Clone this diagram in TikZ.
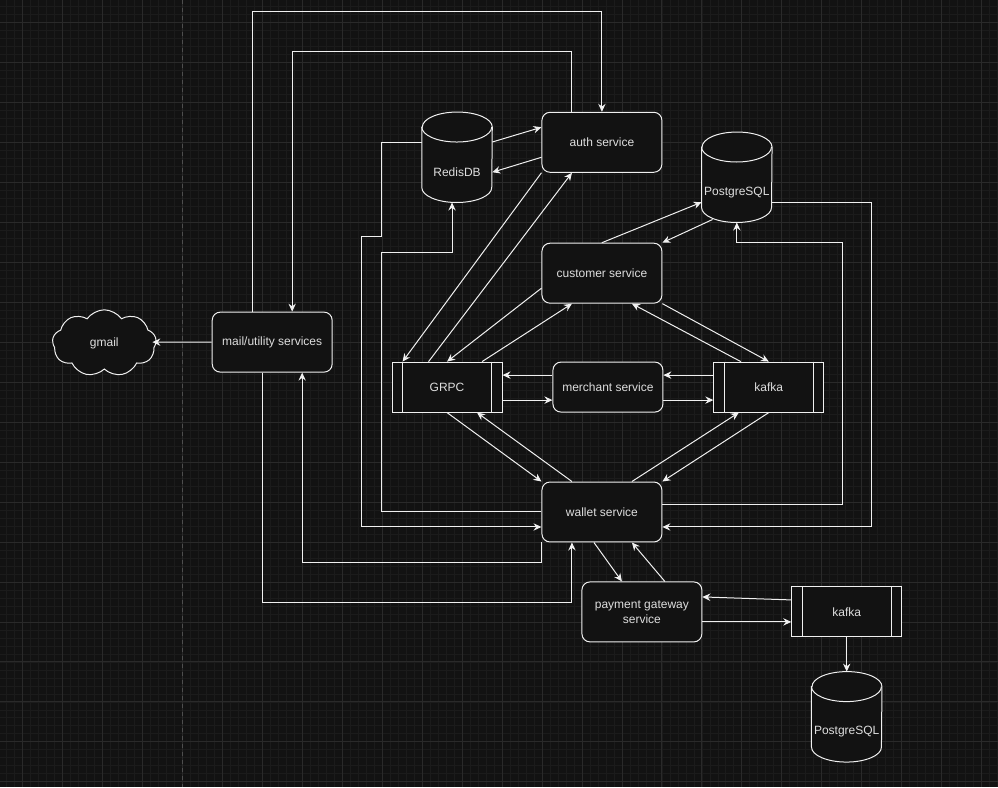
\documentclass[tikz,border=0pt]{standalone}
\usepackage{fontspec}
\setmainfont{Liberation Sans}
\usetikzlibrary{shapes,arrows,arrows.meta,positioning,calc,backgrounds}

\definecolor{canvas}{RGB}{18,18,18}
\definecolor{gridminor}{RGB}{27,27,27}
\definecolor{gridmajor}{RGB}{42,42,42}
\definecolor{pagebreak}{RGB}{78,78,78}
\definecolor{strokecol}{RGB}{240,240,240}
\definecolor{labelcol}{RGB}{222,222,222}

\begin{document}
\begin{tikzpicture}[x=0.75pt, y=-0.75pt,
    svc/.style={rectangle, draw=strokecol, line width=0.75pt, rounded corners=6pt, fill=canvas, text=labelcol, align=center, minimum width=90pt, minimum height=45pt, inner sep=2pt, font=\fontsize{9}{11}\selectfont},
    queue/.style={svc, sharp corners, minimum width=82.5pt, minimum height=37.5pt},
    db/.style={rectangle, text=labelcol, minimum width=52.5pt, minimum height=45pt, inner sep=0pt, font=\fontsize{9}{11}\selectfont},
    cloudy/.style={cloud, cloud puffs=9, cloud puff arc=110, aspect=1.55, draw=strokecol, line width=0.75pt, fill=canvas, text=labelcol, minimum width=78pt, minimum height=50pt, inner sep=0pt, font=\fontsize{9}{11}\selectfont},
    wire/.style={draw=strokecol, line width=0.75pt},
    link/.style={wire, -{Stealth[length=6pt, width=5.5pt, inset=2pt]}}
]

    % Canvas and grid
    \begin{pgfonlayer}{background}
    \fill[canvas] (0,0) rectangle (998,787);
    \foreach \g in {6,14,...,998} \draw[gridminor, line width=0.5pt] (\g,0) -- (\g,787);
    \foreach \g in {6,14,...,787} \draw[gridminor, line width=0.5pt] (0,\g) -- (998,\g);
    \foreach \g in {22,62,...,982} \draw[gridmajor, line width=0.6pt] (\g,0) -- (\g,787);
    \foreach \g in {22,62,...,782} \draw[gridmajor, line width=0.6pt] (0,\g) -- (998,\g);
    \draw[pagebreak, dashed, line width=0.6pt] (182,0) -- (182,787);
    \end{pgfonlayer}
    \useasboundingbox (0,0) rectangle (998,787);

    % Core services
    \node (auth) [svc] at (602,142) {auth service};
    \node (customer) [svc, below=52.5pt of auth] {customer service};
    \node (wallet) [svc] at (602,512) {wallet service};

    % Middle row
    \node (grpc) [queue] at (447,387) {GRPC};
    \node (merchant) [svc, minimum width=82.5pt, minimum height=37.5pt, right=37.5pt of grpc] {merchant service};
    \node (kafka) [queue, right=37.5pt of merchant] {kafka};

    % Mail side
    \node (mail) [svc] at (272,342) {mail/utility services};
    \node (gmail) [cloudy] at (104,343) {gmail};

    % Payments
    \node (pay) [svc] at (642,612) {payment gateway\\service};
    \node (kafkapay) [queue] at (847,612) {kafka};

    % Stores
    \node (redis) [db] at (457,172) {RedisDB};
    \node (pg) [db] at (737,192) {PostgreSQL};
    \node (pgpay) [db] at (847,732) {PostgreSQL};

    \begin{pgfonlayer}{background}
    \foreach \d in {redis,pg,pgpay} {
        \draw[wire, fill=canvas] ($(\d.north west)+(0,-15)$) -- ($(\d.south west)+(0,-15)$)
            arc[start angle=180, end angle=0, x radius=35, y radius=15]
            -- ($(\d.north east)+(0,-15)$)
            arc[start angle=0, end angle=-180, x radius=35, y radius=15] -- cycle;
        \draw[wire] ($(\d.north west)+(0,-15)$) arc[start angle=180, end angle=0, x radius=35, y radius=15];
    }
    \end{pgfonlayer}
    \foreach \q in {grpc,kafka,kafkapay} {
        \draw[wire] ($(\q.north west)+(11,0)$) -- ($(\q.south west)+(11,0)$);
        \draw[wire] ($(\q.north east)+(-11,0)$) -- ($(\q.south east)+(-11,0)$);
    }

    % Mail loops
    \draw[link] ($(mail.north)+(-20,0)$) -- ++(0,-300) -| (auth.north);
    \draw[link] ($(auth.north)+(-30,0)$) -- ++(0,-60) -| ($(mail.north)+(20,0)$);
    \draw[link] (mail.west) -- ($(gmail.east)+(-4,-1)$);
    \draw[link] (wallet.south west) -- ++(0,20) -| ($(mail.south)+(30,0)$);
    \draw[link] ($(mail.south)+(-10,0)$) -- ++(0,230) -| ($(wallet.south)+(-30,0)$);

    % Redis
    \draw[link] (redis.north east) -- ($(auth.west)+(0,-15)$);
    \draw[link] ($(auth.west)+(0,15)$) -- (redis.east);
    \draw[link] (redis.north west) -- ++(-40,0) -- ++(0,95) -- ++(-20,0) |- ($(wallet.west)+(0,15)$);
    \draw[link] (wallet.west) -- ++(-160,0) -- ++(0,-260) -| ($(redis.south)+(-5,0)$);

    % PostgreSQL
    \draw[link] ($(wallet.east)+(0,-7)$) -- ++(180,0) -- ++(0,-263) -| (pg.south);
    \draw[link] ($(pg.east)+(0,10)$) -- ++(100,0) |- ($(wallet.east)+(0,15)$);
    \draw[link] (customer.north) -- ($(pg.west)+(0,10)$);
    \draw[link] ($(pg.south west)+(11,-3)$) -- (customer.north east);

    % Auth and customer to GRPC
    \draw[link] (auth.south west) -- ($(grpc.north west)+(11,0)$);
    \draw[link] ($(grpc.north west)+(37,0)$) -- ($(auth.south)+(-30,0)$);
    \draw[link] ($(customer.west)+(0,15)$) -- (grpc.north);
    \draw[link] ($(grpc.north)+(35,0)$) -- ($(customer.south)+(-30,0)$);

    % Customer and kafka
    \draw[link] ($(kafka.north)+(-28,0)$) -- ($(customer.south)+(30,0)$);
    \draw[link] (customer.south east) -- (kafka.north);

    % Merchant
    \draw[link] ($(merchant.west)+(0,-12)$) -- ($(grpc.east)+(0,-12)$);
    \draw[link] ($(grpc.east)+(0,13)$) -- ($(merchant.west)+(0,13)$);
    \draw[link] ($(kafka.west)+(0,-12)$) -- ($(merchant.east)+(0,-12)$);
    \draw[link] ($(merchant.east)+(0,13)$) -- ($(kafka.west)+(0,13)$);

    % Wallet
    \draw[link] (grpc.south) -- (wallet.north west);
    \draw[link] ($(wallet.north)+(-30,0)$) -- ($(grpc.south)+(30,0)$);
    \draw[link] ($(wallet.north)+(30,0)$) -- ($(kafka.south)+(-30,0)$);
    \draw[link] (kafka.south) -- (wallet.north east);

    % Payment gateway
    \draw[link] ($(wallet.south)+(-8,0)$) -- ($(pay.north)+(-20,0)$);
    \draw[link] ($(pay.north)+(23,0)$) -- ($(wallet.south)+(30,0)$);
    \draw[link] ($(kafkapay.west)+(0,-12)$) -- ($(pay.east)+(0,-15)$);
    \draw[link] ($(pay.east)+(0,10)$) -- ($(kafkapay.west)+(0,10)$);
    \draw[link] (kafkapay.south) -- ($(pgpay.north)+(0,-30)$);

\end{tikzpicture}
\end{document}
